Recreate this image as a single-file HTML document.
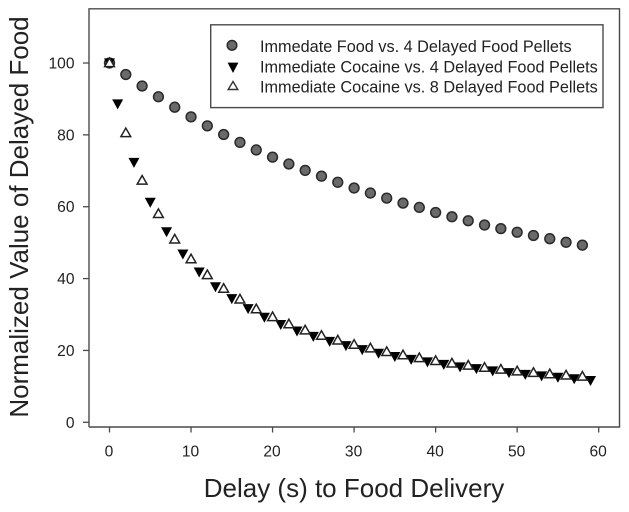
<!DOCTYPE html>
<html>
<head>
<meta charset="utf-8">
<title>Normalized Value of Delayed Food</title>
<style>
html,body{margin:0;padding:0;background:#fff;width:629px;height:512px;overflow:hidden}
svg{display:block}
text{font-family:"Liberation Sans",Arial,sans-serif;fill:#222}
</style>
</head>
<body>
<svg id="chart" width="629" height="512" viewBox="0 0 629 512" xmlns="http://www.w3.org/2000/svg">
  <rect x="0" y="0" width="629" height="512" fill="#fff"/>
  <path d="M89 427V8.8H619.5V427H89" fill="none" stroke="#4a4a4a" stroke-width="1.4"/>
  <g id="x-axis"></g>
  <g id="y-axis"></g>
  <text transform="translate(28,217) rotate(-90)" text-anchor="middle" font-size="26">Normalized Value of Delayed Food</text>
  <text x="354" y="497" text-anchor="middle" font-size="26">Delay (s) to Food Delivery</text>
  <g id="series-food"></g>
  <g id="series-cocaine-4"></g>
  <g id="series-cocaine-8"></g>
  <g>
    <rect x="210.7" y="24.8" width="392.3" height="82.8" fill="#fff" stroke="#4a4a4a" stroke-width="1.4"/>
    <circle cx="232" cy="45.3" r="4.8" fill="#6a6a6a" stroke="#2a2a2a" stroke-width="1.5"/>
    <path d="M227.6 62.6H238.4L233 73Z" fill="#000"/>
    <path d="M233 81.5L237.8 89.5H228.2Z" fill="#fff" stroke="#333" stroke-width="1.4"/>
    <text x="260" y="51.8" font-size="16.25">Immedate Food vs. 4 Delayed Food Pellets</text>
    <text x="260" y="72.3" font-size="16.25">Immediate Cocaine vs. 4 Delayed Food Pellets</text>
    <text x="260" y="92.5" font-size="16.25">Immediate Cocaine vs. 8 Delayed Food Pellets</text>
  </g>
</svg>
<script>
const xTicks = [0, 10, 20, 30, 40, 50, 60];
const yTicks = [0, 20, 40, 60, 80, 100];

const foodDelays = [0, 2, 4, 6, 8, 10, 12, 14, 16, 18, 20, 22, 24, 26, 28, 30, 32, 34, 36, 38, 40, 42, 44, 46, 48, 50, 52, 54, 56, 58];
const foodValues = [100, 96.8, 93.6, 90.6, 87.7, 85, 82.5, 80.1, 77.9, 75.8, 73.8, 71.9, 70.1, 68.5, 66.8, 65.2, 63.8, 62.4, 61, 59.8, 58.4, 57.2, 56.1, 54.9, 53.9, 52.9, 52, 51.1, 50.1, 49.3];

const cocaine4Delays = [0, 1, 3, 5, 7, 9, 11, 13, 15, 17, 19, 21, 23, 25, 27, 29, 31, 33, 35, 37, 39, 41, 43, 45, 47, 49, 51, 53, 55, 57, 59];
const cocaine4Values = [100, 88.6, 72.3, 61.2, 53, 46.8, 41.8, 37.7, 34.4, 31.6, 29.2, 27.2, 25.4, 23.9, 22.5, 21.3, 20.2, 19.2, 18.3, 17.5, 16.8, 16.1, 15.4, 14.9, 14.3, 13.8, 13.3, 12.9, 12.5, 12.1, 11.6];

const cocaine8Delays = [0, 2, 4, 6, 8, 10, 12, 14, 16, 18, 20, 22, 24, 26, 28, 30, 32, 34, 36, 38, 40, 42, 44, 46, 48, 50, 52, 54, 56, 58];
const cocaine8Values = [100, 80.5, 67.3, 58, 50.9, 45.4, 41, 37.2, 34.2, 31.5, 29.3, 27.3, 25.6, 24.1, 22.8, 21.6, 20.6, 19.6, 18.7, 17.9, 17.1, 16.4, 15.8, 15.2, 14.7, 14.2, 13.8, 13.4, 13.05, 12.75];

const SVG_NS = 'http://www.w3.org/2000/svg';
function xScale(v) { return 109.5 + v * 8.153; }
function yScale(v) { return 422.3 - v * 3.593; }
function make(tag) { return document.createElementNS(SVG_NS, tag); }

const xAxis = document.getElementById('x-axis');
xTicks.forEach(function (t) {
  const line = make('line');
  
  
  line.setAttribute('x1', xScale(t));
  line.setAttribute('x2', xScale(t));
  line.setAttribute('y1', 427);
  line.setAttribute('y2', 432.5);
  line.setAttribute('stroke', '#4a4a4a');
  line.setAttribute('stroke-width', 1.3);
  xAxis.appendChild(line);
  const label = make('text');
  
  
  label.setAttribute('x', xScale(t) - 0.5);
  label.setAttribute('y', 456.3);
  label.setAttribute('text-anchor', 'middle');
  label.setAttribute('font-size', 15.6);
  label.textContent = t;
  xAxis.appendChild(label);
});

const yAxis = document.getElementById('y-axis');
yTicks.forEach(function (t) {
  const line = make('line');
  
  
  line.setAttribute('x1', 83);
  line.setAttribute('x2', 89);
  line.setAttribute('y1', yScale(t));
  line.setAttribute('y2', yScale(t));
  line.setAttribute('stroke', '#4a4a4a');
  line.setAttribute('stroke-width', 1.3);
  yAxis.appendChild(line);
  const label = make('text');
  
  
  label.setAttribute('x', 74.5);
  label.setAttribute('y', yScale(t) + 5.5);
  label.setAttribute('text-anchor', 'end');
  label.setAttribute('font-size', 15.6);
  label.textContent = t;
  yAxis.appendChild(label);
});

const foodGroup = document.getElementById('series-food');
foodValues.forEach(function (v, i) {
  const c = make('circle');
  
  
  c.setAttribute('cx', xScale(foodDelays[i]));
  c.setAttribute('cy', yScale(v));
  c.setAttribute('r', 4.9);
  c.setAttribute('fill', '#6a6a6a');
  c.setAttribute('stroke', '#2a2a2a');
  c.setAttribute('stroke-width', 1.5);
  foodGroup.appendChild(c);
});

const cocaine4Group = document.getElementById('series-cocaine-4');
cocaine4Values.forEach(function (v, i) {
  const x = xScale(cocaine4Delays[i]);
  const y = yScale(v);
  const p = make('path');
  
  
  p.setAttribute('d', 'M' + (x - 5.5) + ' ' + (y - 4.6) + 'H' + (x + 5.5) + 'L' + x + ' ' + (y + 5.4) + 'Z');
  p.setAttribute('fill', '#000');
  cocaine4Group.appendChild(p);
});

const cocaine8Group = document.getElementById('series-cocaine-8');
cocaine8Values.forEach(function (v, i) {
  const x = xScale(cocaine8Delays[i]);
  const y = yScale(v);
  const p = make('path');
  
  
  p.setAttribute('d', 'M' + x + ' ' + (y - 5) + 'L' + (x + 4.9) + ' ' + (y + 3.6) + 'H' + (x - 4.9) + 'Z');
  p.setAttribute('fill', '#fff');
  p.setAttribute('stroke', '#222');
  p.setAttribute('stroke-width', 1.5);
  cocaine8Group.appendChild(p);
});
</script>
</body>
</html>
